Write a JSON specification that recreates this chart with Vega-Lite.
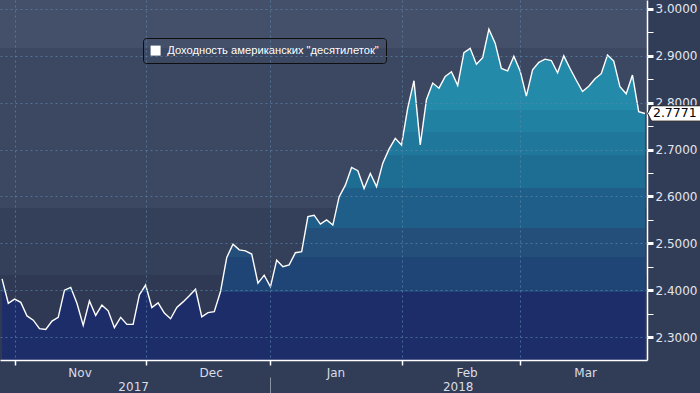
{
  "$schema": "https://vega.github.io/schema/vega-lite/v6.json",
  "width": 647,
  "height": 360,
  "autosize": {"type": "none"},
  "padding": {"left": 0, "top": 0, "right": 53, "bottom": 33},
  "background": "#313c57",
  "config": {
    "view": {
      "stroke": null,
      "fill": {
        "gradient": "linear", "x1": 0, "y1": 0, "x2": 0, "y2": 1,
        "stops": [
          {"offset": 0, "color": "#445069"},
          {"offset": 0.133, "color": "#445069"},
          {"offset": 0.1331, "color": "#3c4862"},
          {"offset": 0.578, "color": "#3c4862"},
          {"offset": 0.5781, "color": "#343f59"},
          {"offset": 0.764, "color": "#343f59"},
          {"offset": 0.7641, "color": "#2f3953"},
          {"offset": 1, "color": "#2f3953"}
        ]
      }
    },
    "axis": {"labelFont": "DejaVu Sans", "labelFontSize": 12, "labelColor": "#dfe3ea", "title": null}
  },
  "data": {
    "values": [
      {"date": "2017-10-30", "value": 2.424},
      {"date": "2017-10-31", "value": 2.372},
      {"date": "2017-11-01", "value": 2.381},
      {"date": "2017-11-02", "value": 2.374},
      {"date": "2017-11-03", "value": 2.345},
      {"date": "2017-11-06", "value": 2.336},
      {"date": "2017-11-07", "value": 2.318},
      {"date": "2017-11-08", "value": 2.316},
      {"date": "2017-11-09", "value": 2.334},
      {"date": "2017-11-10", "value": 2.342},
      {"date": "2017-11-13", "value": 2.400},
      {"date": "2017-11-14", "value": 2.406},
      {"date": "2017-11-15", "value": 2.372},
      {"date": "2017-11-16", "value": 2.325},
      {"date": "2017-11-17", "value": 2.377},
      {"date": "2017-11-20", "value": 2.346},
      {"date": "2017-11-21", "value": 2.368},
      {"date": "2017-11-22", "value": 2.356},
      {"date": "2017-11-24", "value": 2.320},
      {"date": "2017-11-27", "value": 2.342},
      {"date": "2017-11-28", "value": 2.327},
      {"date": "2017-11-29", "value": 2.327},
      {"date": "2017-11-30", "value": 2.390},
      {"date": "2017-12-01", "value": 2.411},
      {"date": "2017-12-04", "value": 2.363},
      {"date": "2017-12-05", "value": 2.373},
      {"date": "2017-12-06", "value": 2.351},
      {"date": "2017-12-07", "value": 2.339},
      {"date": "2017-12-08", "value": 2.363},
      {"date": "2017-12-11", "value": 2.375},
      {"date": "2017-12-12", "value": 2.388},
      {"date": "2017-12-13", "value": 2.402},
      {"date": "2017-12-14", "value": 2.343},
      {"date": "2017-12-15", "value": 2.352},
      {"date": "2017-12-18", "value": 2.354},
      {"date": "2017-12-19", "value": 2.397},
      {"date": "2017-12-20", "value": 2.470},
      {"date": "2017-12-21", "value": 2.498},
      {"date": "2017-12-22", "value": 2.486},
      {"date": "2017-12-26", "value": 2.484},
      {"date": "2017-12-27", "value": 2.477},
      {"date": "2017-12-28", "value": 2.415},
      {"date": "2017-12-29", "value": 2.432},
      {"date": "2018-01-02", "value": 2.407},
      {"date": "2018-01-03", "value": 2.464},
      {"date": "2018-01-04", "value": 2.450},
      {"date": "2018-01-05", "value": 2.454},
      {"date": "2018-01-08", "value": 2.480},
      {"date": "2018-01-09", "value": 2.482},
      {"date": "2018-01-10", "value": 2.557},
      {"date": "2018-01-11", "value": 2.560},
      {"date": "2018-01-12", "value": 2.541},
      {"date": "2018-01-16", "value": 2.550},
      {"date": "2018-01-17", "value": 2.539},
      {"date": "2018-01-18", "value": 2.599},
      {"date": "2018-01-19", "value": 2.624},
      {"date": "2018-01-22", "value": 2.662},
      {"date": "2018-01-23", "value": 2.655},
      {"date": "2018-01-24", "value": 2.617},
      {"date": "2018-01-25", "value": 2.649},
      {"date": "2018-01-26", "value": 2.621},
      {"date": "2018-01-29", "value": 2.671},
      {"date": "2018-01-30", "value": 2.701},
      {"date": "2018-01-31", "value": 2.724},
      {"date": "2018-02-01", "value": 2.710},
      {"date": "2018-02-02", "value": 2.789},
      {"date": "2018-02-05", "value": 2.847},
      {"date": "2018-02-06", "value": 2.710},
      {"date": "2018-02-07", "value": 2.807},
      {"date": "2018-02-08", "value": 2.842},
      {"date": "2018-02-09", "value": 2.831},
      {"date": "2018-02-12", "value": 2.856},
      {"date": "2018-02-13", "value": 2.866},
      {"date": "2018-02-14", "value": 2.837},
      {"date": "2018-02-15", "value": 2.907},
      {"date": "2018-02-16", "value": 2.916},
      {"date": "2018-02-20", "value": 2.882},
      {"date": "2018-02-21", "value": 2.896},
      {"date": "2018-02-22", "value": 2.957},
      {"date": "2018-02-23", "value": 2.927},
      {"date": "2018-02-26", "value": 2.873},
      {"date": "2018-02-27", "value": 2.868},
      {"date": "2018-02-28", "value": 2.899},
      {"date": "2018-03-01", "value": 2.868},
      {"date": "2018-03-02", "value": 2.814},
      {"date": "2018-03-05", "value": 2.870},
      {"date": "2018-03-06", "value": 2.886},
      {"date": "2018-03-07", "value": 2.893},
      {"date": "2018-03-08", "value": 2.890},
      {"date": "2018-03-09", "value": 2.864},
      {"date": "2018-03-12", "value": 2.900},
      {"date": "2018-03-13", "value": 2.873},
      {"date": "2018-03-14", "value": 2.848},
      {"date": "2018-03-15", "value": 2.824},
      {"date": "2018-03-16", "value": 2.835},
      {"date": "2018-03-19", "value": 2.851},
      {"date": "2018-03-20", "value": 2.862},
      {"date": "2018-03-21", "value": 2.902},
      {"date": "2018-03-22", "value": 2.889},
      {"date": "2018-03-23", "value": 2.834},
      {"date": "2018-03-26", "value": 2.819},
      {"date": "2018-03-27", "value": 2.859},
      {"date": "2018-03-28", "value": 2.781},
      {"date": "2018-03-29", "value": 2.7771}
    ]
  },
  "layer": [
    {
      "mark": {
        "type": "area",
        "fill": {
          "gradient": "linear", "x1": 0, "y1": 0, "x2": 0, "y2": 1,
          "stops": [
            {"offset": 0, "color": "#248aaa"},
            {"offset": 0.244, "color": "#248aaa"},
            {"offset": 0.2441, "color": "#2181a3"},
            {"offset": 0.311, "color": "#2181a3"},
            {"offset": 0.3111, "color": "#1f789b"},
            {"offset": 0.38, "color": "#1f789b"},
            {"offset": 0.3801, "color": "#1e6d92"},
            {"offset": 0.48, "color": "#1e6d92"},
            {"offset": 0.4801, "color": "#1f5e88"},
            {"offset": 0.601, "color": "#1f5e88"},
            {"offset": 0.6011, "color": "#244f7b"},
            {"offset": 0.689, "color": "#244f7b"},
            {"offset": 0.6891, "color": "#1f4577"},
            {"offset": 0.794, "color": "#1f4577"},
            {"offset": 0.7941, "color": "#1d2d69"},
            {"offset": 1, "color": "#1d2d69"}
          ]
        }
      },
      "encoding": {
        "x": {
          "field": "date", "type": "ordinal",
          "scale": {"type": "point", "padding": 0.33},
          "axis": {
            "orient": "bottom",
            "values": ["2017-11-01", "2017-12-01", "2018-01-02", "2018-02-01", "2018-03-01"],
            "labelExpr": "datum.value == '2017-11-01' ? 'Nov' : datum.value == '2017-12-01' ? 'Dec' : datum.value == '2018-01-02' ? 'Jan' : datum.value == '2018-02-01' ? 'Feb' : 'Mar'",
            "labelOffset": 65, "labelPadding": 2, "labelAngle": 0,
            "labelOverlap": false, "labelFlush": false, "labelBound": false,
            "labelColor": "#d8dde6",
            "tickSize": 5, "tickColor": "#ffffff", "tickWidth": 1.5,
            "domainColor": "#ffffff", "domainWidth": 1.5,
            "grid": true, "gridColor": "#5a86aa", "gridOpacity": 0.7, "gridDash": [2, 3],
            "zindex": 1
          }
        },
        "y": {
          "field": "value", "type": "quantitative", "stack": null,
          "scale": {"domain": [2.251, 3.0192], "zero": false, "nice": false},
          "axis": {
            "orient": "right",
            "values": [2.3, 2.4, 2.5, 2.6, 2.7, 2.8, 2.9, 3.0],
            "labels": false, "ticks": false, "domain": false,
            "grid": true, "gridColor": "#5a86aa", "gridOpacity": 0.7, "gridDash": [2, 3],
            "zindex": 1
          }
        }
      }
    },
    {
      "mark": {"type": "line", "strokeWidth": 1.4},
      "encoding": {
        "x": {
          "field": "date", "type": "ordinal",
          "axis": {
            "orient": "bottom", "offset": 17,
            "values": ["2017-11-29", "2018-01-02", "2018-02-14"],
            "labelExpr": "datum.value == '2017-11-29' ? '2017' : datum.value == '2018-02-14' ? '2018' : ''",
            "labelAngle": 0, "labelOverlap": false, "labelFlush": false, "labelBound": false,
            "labelColor": "#d8dde6", "labelPadding": -12,
            "domain": false, "grid": false,
            "tickSize": 16, "tickColor": "#8a93a6", "tickWidth": 1,
            "tickOpacity": {"condition": {"test": "datum.value == '2018-01-02'", "value": 1}, "value": 0}
          }
        },
        "y": {
          "field": "value", "type": "quantitative",
          "axis": {
            "orient": "right",
            "values": [2.3, 2.35, 2.4, 2.45, 2.5, 2.55, 2.6, 2.65, 2.7, 2.75, 2.8, 2.85, 2.9, 2.95, 3.0],
            "format": ".4f",
            "labelExpr": "abs(datum.value * 10 - round(datum.value * 10)) < 0.001 ? datum.label : ''",
            "labelPadding": 2, "labelOverlap": false, "labelFlush": false, "labelBound": false,
            "labelColor": "#e3e6ee",
            "tickSize": 6, "tickColor": "#ffffff",
            "tickWidth": {"condition": {"test": "abs(datum.value * 10 - round(datum.value * 10)) < 0.001", "value": 3}, "value": 1},
            "domainColor": "#ffffff", "domainWidth": 1.5,
            "grid": false, "zindex": 0
          }
        },
        "color": {
          "datum": "Доходность американских \"десятилеток\"",
          "type": "nominal",
          "scale": {"range": ["#ffffff"]},
          "legend": {
            "title": null, "orient": "none", "legendX": 143, "legendY": 38,
            "padding": 7, "strokeColor": "#0e0e0e", "cornerRadius": 3,
            "symbolType": "square", "symbolSize": 100,
            "symbolFillColor": "#ffffff", "symbolStrokeColor": "#ffffff", "symbolStrokeWidth": 0,
            "labelColor": "#ffffff", "labelFont": "Liberation Sans", "labelFontSize": 11.2,
            "labelOffset": 6, "labelLimit": 400
          }
        }
      }
    },
    {
      "transform": [{"filter": "datum.date == '2018-03-29'"}],
      "mark": {
        "type": "point",
        "shape": "M0.1,0 L0.25,-0.29 L2.1,-0.29 L2.1,0.29 L0.25,0.29 Z",
        "size": 2809, "filled": true, "fill": "#ffffff", "stroke": "#1a1a1a", "strokeWidth": 1, "opacity": 1
      },
      "encoding": {
        "x": {"field": "date", "type": "ordinal", "axis": null},
        "y": {"field": "value", "type": "quantitative", "axis": null}
      }
    },
    {
      "transform": [{"filter": "datum.date == '2018-03-29'"}],
      "mark": {"type": "text", "align": "left", "baseline": "middle", "dx": 8, "font": "DejaVu Sans", "fontSize": 12.5, "color": "#000000"},
      "encoding": {
        "x": {"field": "date", "type": "ordinal", "axis": null},
        "y": {"field": "value", "type": "quantitative", "axis": null},
        "text": {"field": "value", "type": "quantitative", "format": ".4f"}
      }
    }
  ],
  "resolve": {"axis": {"x": "independent", "y": "independent"}}
}
